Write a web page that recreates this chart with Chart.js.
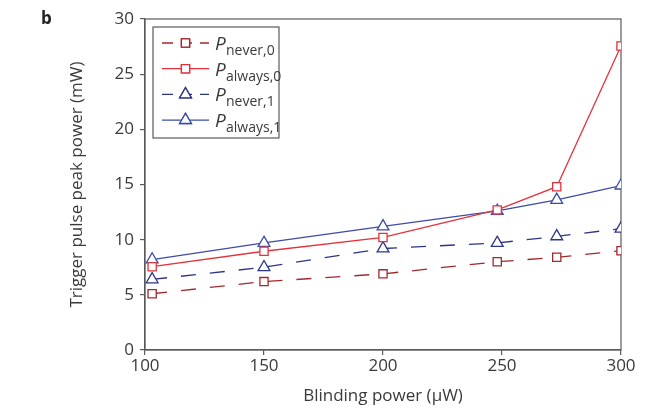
<!DOCTYPE html>
<html>
<head>
<meta charset="utf-8">
<script src="https://cdn.jsdelivr.net/npm/chart.js@4"></script>
<style>
  html, body { margin: 0; padding: 0; background: #fff; }
  #wrap { position: relative; width: 648px; height: 410px; }
  #panel { position: absolute; left: 41px; top: 6px; font: bold 17px "Open Sans", sans-serif; color: #222; }
</style>
</head>
<body>
<div id="wrap">
  <canvas id="chart" width="648" height="410"></canvas>
  <div id="panel">b</div>
</div>
<script>
// Blinding power (µW) at which each point was measured
const blindingPower = [103, 150, 200, 248, 273, 300]

// Trigger pulse peak power (mW)
const pNever0 = [5.1, 6.2, 6.9, 8.0, 8.4, 9.0]
const pAlways0 = [7.55, 8.95, 10.2, 12.7, 14.8, 27.55]
const pNever1 = [6.4, 7.5, 9.2, 9.7, 10.3, 11.0]
const pAlways1 = [8.2, 9.7, 11.2, 12.6, 13.6, 14.9]

const seriesNames = ["never,0", "always,0", "never,1", "always,1"]

const xTicks = [100, 150, 200, 250, 300]
const yTicks = [0, 5, 10, 15, 20, 25, 30]

const textColor = "#3a3a3a"
const axisColor = "#5a5a5a"

function toPoints(values) {
  return values.map((v, i) => ({ x: blindingPower[i], y: v }))
}

// Box around the plot area (top and right edges)
const frame = {
  id: "frame",
  beforeDatasetsDraw(chart) {
    const { ctx, chartArea: a } = chart
    ctx.save()
    ctx.strokeStyle = axisColor
    ctx.lineWidth = 1.2
    ctx.strokeRect(a.left, a.top, a.right - a.left, a.bottom - a.top)
    ctx.restore()
  },
}

// Legend with subscripts, drawn in the upper left of the plot
const subLegend = {
  id: "subLegend",
  afterDraw(chart) {
    const ctx = chart.ctx
    const box = { x: 153, y: 27, w: 126, h: 111 }
    ctx.save()
    ctx.fillStyle = "#fff"
    ctx.fillRect(box.x, box.y, box.w, box.h)
    ctx.strokeStyle = axisColor
    ctx.lineWidth = 1.2
    ctx.strokeRect(box.x, box.y, box.w, box.h)

    chart.data.datasets.forEach((ds, i) => {
      const y = 43 + i * 25.7
      ctx.strokeStyle = ds.borderColor
      ctx.lineWidth = ds.borderWidth
      ctx.setLineDash(ds.borderDash.length ? [11, 8] : [])
      ctx.beginPath()
      ctx.moveTo(162, y)
      ctx.lineTo(209, y)
      ctx.stroke()
      ctx.setLineDash([])
      ctx.fillStyle = "#fff"
      Chart.helpers.drawPoint(ctx, {
        pointStyle: ds.pointStyle,
        radius: ds.pointRadius,
        borderWidth: ds.pointBorderWidth,
      }, 185.5, y)
      ctx.fill()
      ctx.stroke()

      ctx.fillStyle = textColor
      ctx.textBaseline = "alphabetic"
      ctx.font = "italic 19px 'Open Sans', sans-serif"
      ctx.fillText("P", 215, y + 7)
      ctx.font = "14px 'Open Sans', sans-serif"
      ctx.fillText(seriesNames[i], 226, y + 12)
    })
    ctx.restore()
  },
}

function makeSet(label, values, color, dashed, style, radius) {
  return {
    label: label,
    data: toPoints(values),
    borderColor: color,
    backgroundColor: "#fff",
    borderWidth: 1.3,
    borderDash: dashed ? [15, 14] : [],
    pointStyle: style,
    pointRadius: radius,
    pointBorderWidth: 1.3,
    pointBackgroundColor: "#fff",
    pointBorderColor: color,
    tension: 0,
  }
}

new Chart(document.getElementById("chart"), {
  type: "line",
  data: {
    datasets: [
      makeSet("P never,0", pNever0, "#a3282d", true, "rect", 5.8),
      makeSet("P always,0", pAlways0, "#e2323b", false, "rect", 5.8),
      makeSet("P never,1", pNever1, "#2b3686", true, "triangle", 6.8),
      makeSet("P always,1", pAlways1, "#3c4ba6", false, "triangle", 6.8),
    ],
  },
  options: {
    responsive: false,
    animation: false,
    layout: { padding: { left: 67, top: 19, right: 27, bottom: 0 } },
    plugins: {
      legend: { display: false },
      tooltip: { enabled: false },
    },
    scales: {
      x: {
        type: "linear",
        min: xTicks[0],
        max: xTicks[xTicks.length - 1],
        afterBuildTicks: (scale) => { scale.ticks = xTicks.map((v) => ({ value: v })) },
        afterFit: (scale) => { scale.height = 60 },
        grid: { drawOnChartArea: false, tickLength: 5, color: axisColor, lineWidth: 1.2 },
        border: { color: axisColor, width: 1.2 },
        ticks: { color: textColor, font: { family: "Open Sans", size: 17 }, padding: 1 },
        title: {
          display: true,
          text: "Blinding power (μW)",
          color: textColor,
          font: { family: "Open Sans", size: 17 },
          padding: { top: 1 },
        },
      },
      y: {
        min: yTicks[0],
        max: yTicks[yTicks.length - 1],
        afterBuildTicks: (scale) => { scale.ticks = yTicks.map((v) => ({ value: v })) },
        afterFit: (scale) => { scale.width = 78 },
        grid: { drawOnChartArea: false, tickLength: 5, color: axisColor, lineWidth: 1.2 },
        border: { color: axisColor, width: 1.2 },
        ticks: { color: textColor, font: { family: "Open Sans", size: 17 }, padding: 6 },
        title: {
          display: true,
          text: "Trigger pulse peak power (mW)",
          color: textColor,
          font: { family: "Open Sans", size: 17 },
          padding: 0,
        },
      },
    },
  },
  plugins: [frame, subLegend],
})
</script>
</body>
</html>
